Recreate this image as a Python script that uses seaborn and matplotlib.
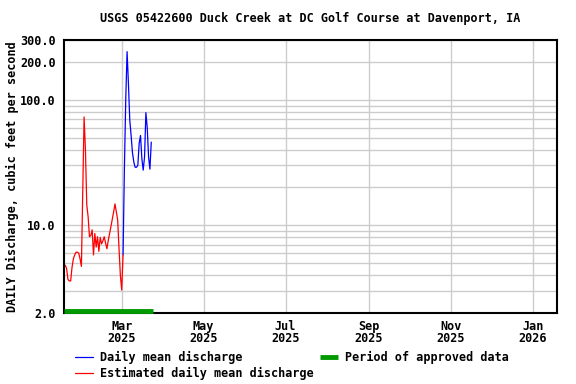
import numpy as np
import pandas as pd
import matplotlib
matplotlib.use('Agg')
import matplotlib.pyplot as plt
import seaborn as sns

sns.set_style('white')
plt.rcParams['font.family'] = ['DejaVu Sans Mono']
plt.rcParams['font.weight'] = 'bold'
plt.rcParams['font.size'] = 8.5
plt.rcParams['axes.titlesize'] = 8.5
plt.rcParams['axes.titleweight'] = 'bold'
plt.rcParams['axes.labelweight'] = 'bold'
plt.rcParams['text.color'] = 'black'
plt.rcParams['axes.labelcolor'] = 'black'
plt.rcParams['xtick.color'] = 'black'
plt.rcParams['ytick.color'] = 'black'

# estimated daily mean discharge (cfs), starting Jan 18 2025
est_start = '2025-01-18'
est_flow = [4.8, 4.5, 3.7, 3.6, 3.6, 4.6, 5.4, 5.8, 6.1, 6.1, 6.0, 5.4, 4.7,
            18.5, 73, 40, 14.5, 11.7, 8.1, 8.3, 9.2, 5.8, 8.6, 6.7, 8.1, 6.2,
            8.0, 7.1, 7.5, 8.1, 7.2, 6.5, 7.6, 8.6, 9.8, 11.2, 12.8, 14.8,
            12.8, 11.0, 6.5, 4.0, 3.05, 5.8]
# daily mean discharge (cfs), starting Mar 2 2025
obs_start = '2025-03-02'
obs_flow = [5.8, 28, 100, 242, 135, 69, 52, 38, 32, 29, 29, 30, 45, 52, 34,
            27.5, 35, 79, 60, 35, 28, 46]
approved_period = ['2025-01-17', '2025-03-24']

x_range = ['2025-01-17', '2026-01-19']
xtick_dates = ['2025-03-01', '2025-05-01', '2025-07-01', '2025-09-01', '2025-11-01', '2026-01-01']
xtick_labels = ['Mar\n2025', 'May\n2025', 'Jul\n2025', 'Sep\n2025', 'Nov\n2025', 'Jan\n2026']
ytick_major = [2, 10, 100, 200, 300]
ytick_labels = ['2.0', '10.0', '100.0', '200.0', '300.0']
ytick_minor = [3, 4, 5, 6, 7, 8, 9, 20, 30, 40, 50, 60, 70, 80, 90]

est = pd.DataFrame({'date': pd.date_range(est_start, periods=len(est_flow), freq='D'),
                    'flow': est_flow})
obs = pd.DataFrame({'date': pd.date_range(obs_start, periods=len(obs_flow), freq='D'),
                    'flow': obs_flow})

fig = plt.figure(figsize=(5.76, 3.84), dpi=100)
ax = fig.add_axes([0.111, 0.185, 0.856, 0.711])

sns.lineplot(data=obs, x='date', y='flow', ax=ax, color='#0000ff', lw=0.9,
             label='Daily mean discharge')
sns.lineplot(data=est, x='date', y='flow', ax=ax, color='#ff0000', lw=0.9,
             label='Estimated daily mean discharge')
ax.plot(pd.to_datetime(approved_period), [0.007, 0.007], color='#009900', lw=3.5,
        transform=ax.get_xaxis_transform(), solid_capstyle='butt', clip_on=False,
        label='Period of approved data', zorder=5)

ax.set_yscale('log')
ax.set_ylim(2, 300)
ax.set_yticks(ytick_major)
ax.set_yticklabels(ytick_labels, fontweight='bold')
ax.set_yticks(ytick_minor, minor=True)
ax.set_yticklabels([], minor=True)
ax.set_xlim(pd.to_datetime(x_range))
ax.set_xticks(pd.to_datetime(xtick_dates))
ax.set_xticklabels(xtick_labels, linespacing=0.95, fontweight='bold')

ax.set_axisbelow(True)
ax.grid(True, which='both', axis='y', color='#cccccc', lw=1)
ax.grid(True, which='major', axis='x', color='#cccccc', lw=1)
ax.tick_params(axis='x', length=0, pad=5)
ax.tick_params(axis='y', which='both', direction='out', length=5, width=1, color='black', pad=1)
for s in ax.spines.values():
    s.set_color('black')
    s.set_linewidth(1.5)

ax.set_xlabel('')
ax.set_ylabel('DAILY Discharge, cubic feet per second', labelpad=0.5)
ax.set_title('USGS 05422600 Duck Creek at DC Golf Course at Davenport, IA', pad=13)

handles, labels = ax.get_legend_handles_labels()
if ax.legend_:
    ax.legend_.remove()
fig.legend(handles, labels, ncol=2, loc='upper left', bbox_to_anchor=(0.131, 0.087),
           frameon=False, handlelength=1.5, handletextpad=0.55, columnspacing=0.6,
           labelspacing=0.28, borderpad=0, borderaxespad=0,
           prop={'weight': 'bold', 'size': 8.5})

fig.savefig('out.png', dpi=100)
